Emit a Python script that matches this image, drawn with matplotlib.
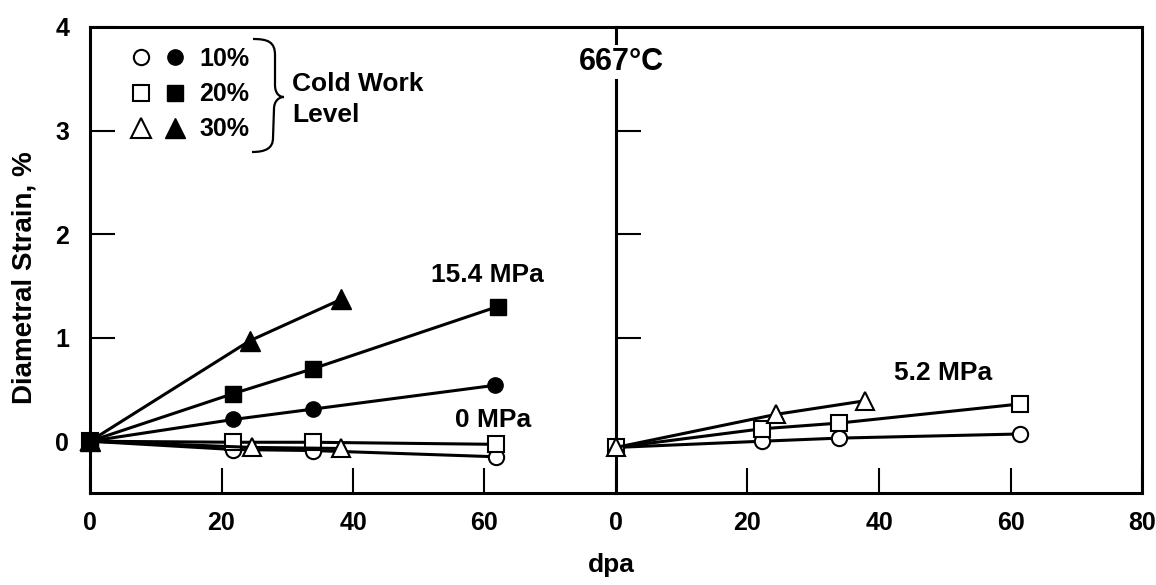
import matplotlib
matplotlib.use("Agg")
import matplotlib.pyplot as plt
from matplotlib.path import Path
from matplotlib.patches import PathPatch
from matplotlib.lines import Line2D
from matplotlib.legend_handler import HandlerTuple

plt.rcParams['font.family'] = ['Liberation Sans', 'DejaVu Sans']
plt.rcParams['font.weight'] = 'bold'

# left panel, 15.4 MPa (filled symbols)
dpa_10_hi = [0, 21.8, 33.9, 61.6]
strain_10_hi = [0, 0.21, 0.31, 0.54]
dpa_20_hi = [0, 21.8, 33.9, 62.0]
strain_20_hi = [0, 0.46, 0.70, 1.30]
dpa_30_hi = [0, 24.3, 38.2]
strain_30_hi = [0, 0.97, 1.37]

# left panel, 0 MPa (open symbols)
dpa_10_zero = [0, 21.8, 33.9, 61.7]
strain_10_zero = [0, -0.08, -0.09, -0.15]
dpa_20_zero = [0, 21.8, 33.9, 61.7]
strain_20_zero = [0, -0.01, -0.01, -0.03]
dpa_30_zero = [0, 24.7, 38.1]
strain_30_zero = [0, -0.06, -0.07]

# right panel, 5.2 MPa (open symbols)
dpa_10_mid = [0, 22.2, 33.9, 61.5]
strain_10_mid = [-0.06, 0.0, 0.03, 0.07]
dpa_20_mid = [0, 22.2, 33.9, 61.5]
strain_20_mid = [-0.06, 0.12, 0.175, 0.36]
dpa_30_mid = [0, 24.4, 37.8]
strain_30_mid = [-0.06, 0.26, 0.39]

left_xticks = [0, 20, 40, 60]
right_xticks = [0, 20, 40, 60, 80]
yticks = [0, 1, 2, 3, 4]
cold_work = ['10%', '20%', '30%']

W, H = 1156, 585
fig = plt.figure(figsize=(W / 100, H / 100), dpi=100)


def fx(px):
    return px / W


def fy(py):
    return 1 - py / H


left_px, mid_px, right_px, top_px, bot_px = 90, 616, 1142, 27, 493
ax1 = fig.add_axes([fx(left_px), fy(bot_px), (mid_px - left_px) / W, (bot_px - top_px) / H])
ax2 = fig.add_axes([fx(mid_px), fy(bot_px), (right_px - mid_px) / W, (bot_px - top_px) / H])

for ax in (ax1, ax2):
    ax.set_xlim(0, 80)
    ax.set_ylim(-0.5, 4)
    for s in ax.spines.values():
        s.set_linewidth(2.2)
    ax.tick_params(direction='in', length=18, width=1.5, labelsize=18)
    ax.tick_params(axis='x', pad=13)
    ax.tick_params(axis='y', pad=15)
ax1.spines['right'].set_visible(False)
ax1.set_xticks(left_xticks)
ax1.set_yticks(yticks)
ax2.set_xticks(right_xticks)
ax2.set_yticks(yticks[1:4])
ax2.tick_params(axis='y', labelleft=False)

lw = 2.2
open_kw = dict(color='black', lw=lw, mfc='white', mec='black', mew=1.5, clip_on=False, zorder=3)
fill_kw = dict(color='black', lw=lw, mfc='black', mec='black', clip_on=False, zorder=3)

# 0 MPa
ax1.plot(dpa_10_zero, strain_10_zero, marker='o', ms=11, **open_kw)
ax1.plot(dpa_20_zero, strain_20_zero, marker='s', ms=11, **open_kw)
ax1.plot(dpa_30_zero, strain_30_zero, marker='^', ms=12.5, **open_kw)
# 15.4 MPa
ax1.plot(dpa_10_hi, strain_10_hi, marker='o', ms=11, **fill_kw)
ax1.plot(dpa_30_hi, strain_30_hi, marker='^', ms=15, **fill_kw)
ax1.plot(dpa_20_hi, strain_20_hi, marker='s', ms=12, **fill_kw)
# 5.2 MPa
ax2.plot(dpa_10_mid, strain_10_mid, marker='o', ms=11, **open_kw)
ax2.plot(dpa_20_mid, strain_20_mid, marker='s', ms=11, **open_kw)
ax2.plot(dpa_30_mid, strain_30_mid, marker='^', ms=13, **open_kw)

# cold work legend: open and filled symbol side by side
handles = []
for m, ms in zip(['o', 's', '^'], [11, 11, 15]):
    h_open = Line2D([], [], ls='none', marker=m, ms=ms, mfc='white', mec='black', mew=1.5)
    h_fill = Line2D([], [], ls='none', marker=m, ms=ms, mfc='black', mec='black')
    handles.append((h_open, h_fill))
ax1.legend(handles, cold_work, handler_map={tuple: HandlerTuple(ndivide=None, pad=0)},
           loc='upper left', bbox_to_anchor=(fx(124), fy(47)), bbox_transform=fig.transFigure,
           frameon=False, fontsize=18, handlelength=2.72, handletextpad=0.3,
           labelspacing=0.45, borderpad=0, borderaxespad=0, numpoints=1)

# curly brace
verts = [(253, 39), (268, 39), (275, 42), (275, 55),
         (275, 85),
         (275, 93), (279, 97), (284, 97),
         (279, 97), (274, 101), (274, 109),
         (273, 138),
         (273, 148), (266, 152), (252, 152)]
codes = [Path.MOVETO, Path.CURVE4, Path.CURVE4, Path.CURVE4,
         Path.LINETO,
         Path.CURVE4, Path.CURVE4, Path.CURVE4,
         Path.CURVE4, Path.CURVE4, Path.CURVE4,
         Path.LINETO,
         Path.CURVE4, Path.CURVE4, Path.CURVE4]
brace = Path([(fx(x), fy(y)) for x, y in verts], codes)
fig.add_artist(PathPatch(brace, fc='none', ec='black', lw=1.6, transform=fig.transFigure))

fig.text(fx(292), fy(84), 'Cold Work', fontsize=19, ha='left', va='center')
fig.text(fx(292), fy(115), 'Level', fontsize=19, ha='left', va='center')

fig.text(fx(487), fy(275), '15.4 MPa', fontsize=19, ha='center', va='center')
fig.text(fx(493), fy(420), '0 MPa', fontsize=19, ha='center', va='center')
fig.text(fx(943), fy(373), '5.2 MPa', fontsize=19, ha='center', va='center')
fig.text(fx(621), fy(62), '667°C', fontsize=22, ha='center', va='center',
         bbox=dict(fc='white', ec='none', pad=1))

fig.text(fx(25), fy(278), 'Diametral Strain, %', fontsize=20, rotation=90,
         ha='center', va='center')
fig.text(fx(611), fy(565), 'dpa', fontsize=19, ha='center', va='center')

fig.savefig('out.png', dpi=100)
